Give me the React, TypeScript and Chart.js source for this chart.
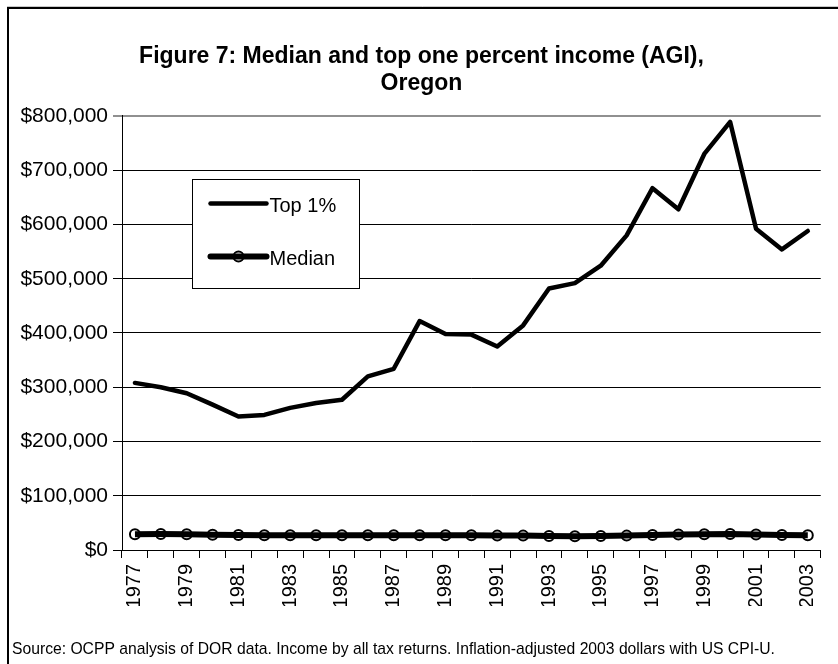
import { useEffect, useRef } from 'react';
import { Chart, registerables } from 'chart.js';

Chart.register(...registerables);

const FONT = "'Liberation Sans', Arial, sans-serif";

const years = [
  '1977', '1978', '1979', '1980', '1981', '1982', '1983', '1984', '1985',
  '1986', '1987', '1988', '1989', '1990', '1991', '1992', '1993', '1994',
  '1995', '1996', '1997', '1998', '1999', '2000', '2001', '2002', '2003',
];

const top1 = [
  308000, 300000, 289000, 268000, 246000, 249000, 262000, 271000, 277000,
  320000, 334000, 422000, 398000, 397000, 375000, 414000, 482000, 492000,
  524000, 580000, 667000, 628000, 730000, 789000, 592000, 554000, 588000,
];

const median = [
  29000, 29500, 29000, 28000, 27500, 27000, 27000, 27200, 27000,
  27000, 27000, 27000, 27000, 27000, 26500, 26500, 26000, 25500,
  26000, 26500, 27500, 28500, 29000, 29500, 28500, 27500, 27000,
];

const seriesNames = ['Top 1%', 'Median'];
const yMin = 0;
const yMax = 800000;
const yStep = 100000;

const titleLines = ['Figure 7: Median and top one percent income (AGI),', 'Oregon'];
const sourceNote =
  'Source: OCPP analysis of DOR data. Income by all tax returns. Inflation-adjusted 2003 dollars with US CPI-U.';

const fmtDollar = (v: number) => '$' + Number(v).toLocaleString('en-US');

const framePlugin = {
  id: 'frame',
  beforeDraw(chart: any) {
    const ctx = chart.ctx;
    ctx.save();
    ctx.fillStyle = '#fff';
    ctx.fillRect(0, 0, chart.width, chart.height);
    ctx.strokeStyle = '#c8c8c8';
    ctx.lineWidth = 1;
    ctx.beginPath();
    ctx.moveTo(7, 6.5);
    ctx.lineTo(chart.width, 6.5);
    ctx.stroke();
    ctx.strokeStyle = '#000';
    ctx.lineWidth = 2;
    ctx.beginPath();
    ctx.moveTo(8, chart.height);
    ctx.lineTo(8, 8);
    ctx.lineTo(chart.width, 8);
    ctx.stroke();
    ctx.restore();
  },
  afterDraw(chart: any) {
    const ctx = chart.ctx;
    ctx.save();
    ctx.fillStyle = '#000';
    ctx.font = `15.7px ${FONT}`;
    ctx.textBaseline = 'middle';
    ctx.textAlign = 'left';
    ctx.fillText(sourceNote, 12, chart.height - 14);
    ctx.restore();
  },
};

const legendPlugin = {
  id: 'insideLegend',
  afterDraw(chart: any) {
    const ctx = chart.ctx;
    const area = chart.chartArea;
    const bx = Math.round(area.left + 70) + 0.5;
    const by = Math.round(area.top + 63) + 0.5;
    const bw = 167;
    const bh = 109;
    ctx.save();
    ctx.fillStyle = '#fff';
    ctx.fillRect(bx, by, bw, bh);
    ctx.strokeStyle = '#000';
    ctx.lineWidth = 1;
    ctx.strokeRect(bx, by, bw, bh);
    chart.data.datasets.forEach((ds: any, i: number) => {
      const y = by + 24 + i * 53;
      const x0 = bx + 18;
      const x1 = bx + 74;
      ctx.strokeStyle = ds.borderColor;
      ctx.lineWidth = ds.borderWidth;
      ctx.lineCap = 'round';
      ctx.beginPath();
      ctx.moveTo(x0, y);
      ctx.lineTo(x1, y);
      ctx.stroke();
      if (ds.pointRadius > 0) {
        ctx.lineWidth = ds.pointBorderWidth;
        ctx.strokeStyle = ds.pointBorderColor;
        ctx.beginPath();
        ctx.arc((x0 + x1) / 2, y, ds.pointRadius, 0, Math.PI * 2);
        ctx.stroke();
      }
      ctx.fillStyle = '#000';
      ctx.font = `20px ${FONT}`;
      ctx.textBaseline = 'middle';
      ctx.textAlign = 'left';
      ctx.fillText(ds.label, x1 + 3, y + 3);
    });
    ctx.restore();
  },
};

export default function App() {
  const ref = useRef<HTMLCanvasElement | null>(null);

  useEffect(() => {
    if (!ref.current) return;
    const chart = new Chart(ref.current, {
      type: 'line',
      data: {
        labels: years,
        datasets: [
          {
            label: seriesNames[0],
            data: top1,
            borderColor: '#000',
            borderWidth: 4.5,
            pointRadius: 0,
            borderJoinStyle: 'round',
            borderCapStyle: 'round',
            tension: 0,
            fill: false,
          },
          {
            label: seriesNames[1],
            data: median,
            borderColor: '#000',
            borderWidth: 6,
            pointRadius: 5,
            pointStyle: 'circle',
            pointBorderWidth: 2,
            pointBorderColor: '#000',
            pointBackgroundColor: 'rgba(0,0,0,0)',
            borderJoinStyle: 'round',
            tension: 0,
            fill: false,
          },
        ],
      },
      options: {
        responsive: false,
        animation: false,
        devicePixelRatio: 1,
        layout: { padding: { left: 16, right: 11, top: 0, bottom: 58 } },
        plugins: {
          legend: { display: false },
          tooltip: { enabled: false },
          title: {
            display: true,
            text: titleLines,
            color: '#000',
            font: { family: FONT, size: 23, weight: 'bold', lineHeight: 1.18 },
            padding: { top: 43.4, bottom: 18.3 },
          },
        },
        scales: {
          x: {
            type: 'category',
            offset: true,
            grid: {
              offset: true,
              drawOnChartArea: false,
              drawTicks: true,
              tickLength: 8,
              color: '#000',
            },
            border: { display: true, color: '#000', width: 1 },
            ticks: {
              autoSkip: false,
              maxRotation: 90,
              minRotation: 90,
              padding: 6,
              color: '#000',
              font: { family: FONT, size: 20 },
              callback: (_v: any, i: number) => (i % 2 === 0 ? years[i] : ''),
            },
            afterFit: (scale: any) => {
              scale.height = 56;
            },
          },
          y: {
            min: yMin,
            max: yMax,
            grid: {
              color: (c: any) => (c.tick && c.tick.value === yMax ? '#909090' : '#000'),
              lineWidth: (c: any) => (c.tick && c.tick.value === yMax ? 2 : 1),
              drawTicks: true,
              tickLength: 9,
            },
            border: { display: true, color: '#000', width: 1 },
            ticks: {
              stepSize: yStep,
              padding: 5,
              color: '#000',
              font: { family: FONT, size: 21 },
              callback: (v: any) => fmtDollar(v),
            },
            afterFit: (scale: any) => {
              scale.width = 106;
            },
          },
        },
      },
      plugins: [framePlugin, legendPlugin],
    });
    return () => chart.destroy();
  }, []);

  return (
    <div style={{ position: 'absolute', left: 0, top: 0, width: 838, height: 664 }}>
      <canvas ref={ref} width={838} height={664} style={{ display: 'block', width: 838, height: 664 }} />
    </div>
  );
}
